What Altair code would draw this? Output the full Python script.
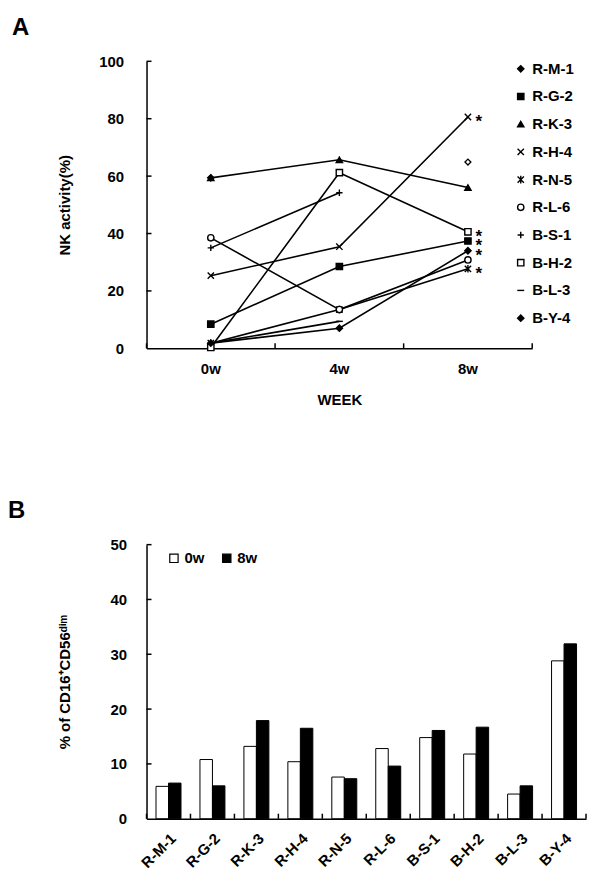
import altair as alt
import pandas as pd

FONT = "Liberation Sans"

# ---------------- Panel A data ----------------
weeks = ["0w", "4w", "8w"]
subjects = ["R-M-1", "R-G-2", "R-K-3", "R-H-4", "R-N-5",
            "R-L-6", "B-S-1", "B-H-2", "B-L-3", "B-Y-4"]

nk_r_m_1 = [59.4, None, None]
nk_r_g_2 = [8.4, 28.5, 37.4]
nk_r_k_3 = [59.4, 65.7, 56.0]
nk_r_h_4 = [25.3, 35.4, 80.6]
nk_r_n_5 = [1.8, 13.5, 27.7]
nk_r_l_6 = [38.5, 13.5, 30.8]
nk_b_s_1 = [35.0, 54.2, None]
nk_b_h_2 = [0.3, 61.2, 40.6]
nk_b_l_3 = [1.8, 9.4, None]
nk_b_y_4 = [1.8, 7.0, 34.0]

# isolated open diamond drawn at 8w
extra_week = ["8w"]
extra_nk = [64.9]

# significance stars at 8w
star_week = ["8w", "8w", "8w", "8w", "8w"]
star_nk = [80.6, 40.6, 37.4, 34.0, 27.7]

a_ticks_y = [20, 40, 60, 80, 100]

# ---------------- Panel B data ----------------
periods = ["0w", "8w"]
cd_0w = [5.9, 10.8, 13.2, 10.4, 7.6, 12.8, 14.8, 11.8, 4.5, 28.8]
cd_8w = [6.5, 6.0, 17.9, 16.5, 7.3, 9.6, 16.1, 16.7, 6.0, 31.9]
b_ticks_y = [10, 20, 30, 40, 50]

# marker styles
shape_paths = [
    "diamond",
    "square",
    "triangle-up",
    "M-1,-1L1,1M-1,1L1,-1",
    "M-1,-1L1,1M-1,1L1,-1M0,-1.2L0,1.2",
    "circle",
    "M-1,0L1,0M0,-1L0,1",
    "square",
    "M-1.1,0L1.1,0",
    "diamond",
]
fills = ["black", "black", "black", "white", "black",
         "white", "white", "white", "white", "black"]
strokes = ["black"] * 10

series_lists = [nk_r_m_1, nk_r_g_2, nk_r_k_3, nk_r_h_4, nk_r_n_5,
                nk_r_l_6, nk_b_s_1, nk_b_h_2, nk_b_l_3, nk_b_y_4]
rows = []
for s, vals in zip(subjects, series_lists):
    for i, (w, v) in enumerate(zip(weeks, vals)):
        if v is not None:
            rows.append({"series": s, "week": w, "nk": v, "ord": i})
df_a = pd.DataFrame(rows)

A_W, A_H = 387, 288
B_W, B_H = 441, 275

x_a = alt.X("week:N", sort=weeks,
            scale=alt.Scale(type="band", domain=weeks, paddingInner=0, paddingOuter=0),
            axis=alt.Axis(title="WEEK", labelAngle=0, ticks=False,
                          labelPadding=13, titlePadding=16))
y_a = alt.Y("nk:Q", scale=alt.Scale(domain=[0, 100], nice=False),
            axis=alt.Axis(values=[0, 20, 40, 60, 80, 100], title="NK activity(%)",
                          ticks=False, labelPadding=23, titlePadding=26, grid=False))

lines = alt.Chart(df_a).mark_line(color="black", strokeWidth=1.6).encode(
    x=x_a, y=y_a, detail="series:N", order="ord:Q")

legend_a = alt.Legend(title=None, orient="none", legendX=368, legendY=0,
                      direction="vertical",
                      labelFontSize=15, labelFontWeight="bold", labelFont=FONT,
                      labelColor="black", rowPadding=11.8, symbolSize=40,
                      symbolStrokeColor="black", symbolStrokeWidth=1.4,
                      labelOffset=4)
points = alt.Chart(df_a).mark_point(filled=False, color="black", strokeWidth=1.4,
                                    size=40, opacity=1).encode(
    x=x_a, y=y_a,
    shape=alt.Shape("series:N", scale=alt.Scale(domain=subjects, range=shape_paths),
                    legend=legend_a),
    fill=alt.Fill("series:N", scale=alt.Scale(domain=subjects, range=fills),
                  legend=legend_a),
    stroke=alt.Stroke("series:N", scale=alt.Scale(domain=subjects, range=strokes),
                      legend=legend_a),
)

extra = alt.Chart(pd.DataFrame({"week": extra_week, "nk": extra_nk})).mark_point(
    shape="diamond", filled=False, stroke="black", strokeWidth=1.3, size=35, opacity=1
).encode(x=x_a, y=y_a)

stars = alt.Chart(pd.DataFrame({"week": star_week, "nk": star_nk})).mark_text(
    text="*", fontSize=17, fontWeight="bold", font=FONT, dx=11, dy=5, color="black"
).encode(x=x_a, y=y_a)

ytick_a = alt.Chart(pd.DataFrame({"nk": a_ticks_y})).mark_rule(
    color="black", strokeWidth=1.5).encode(y=y_a, x=alt.value(0), x2=alt.value(5))
xtick_a = alt.Chart(pd.DataFrame({"week": weeks})).mark_rule(
    color="black", strokeWidth=1.5).encode(
    x=alt.X("week:N", sort=weeks, bandPosition=0,
            scale=alt.Scale(type="band", domain=weeks, paddingInner=0, paddingOuter=0)),
    y=alt.value(A_H), y2=alt.value(A_H - 5))
xtick_a_end = alt.Chart(pd.DataFrame({"week": weeks[-1:]})).mark_rule(
    color="black", strokeWidth=1.5).encode(
    x=alt.X("week:N", sort=weeks, bandPosition=1,
            scale=alt.Scale(type="band", domain=weeks, paddingInner=0, paddingOuter=0)),
    y=alt.value(A_H), y2=alt.value(A_H - 5))

panel_a = alt.layer(lines, points, extra, stars, ytick_a, xtick_a, xtick_a_end).properties(
    width=A_W, height=A_H,
    title=alt.Title("A", anchor="start", frame="group", dx=-135, fontSize=24,
                    font=FONT, fontWeight="bold", offset=14, color="black"))

# ---------------- Panel B ----------------
rows_b = []
for s, v0, v8 in zip(subjects, cd_0w, cd_8w):
    rows_b.append({"subject": s, "period": "0w", "pct": v0})
    rows_b.append({"subject": s, "period": "8w", "pct": v8})
df_b = pd.DataFrame(rows_b)

x_b_scale = alt.Scale(type="band", domain=subjects, paddingInner=0, paddingOuter=0)
x_b = alt.X("subject:N", sort=subjects, scale=x_b_scale,
            axis=alt.Axis(title=None, labelAngle=-45, ticks=False, labelPadding=12))
y_b = alt.Y("pct:Q", scale=alt.Scale(domain=[0, 50], nice=False),
            axis=alt.Axis(values=[0, 10, 20, 30, 40, 50],
                          title="% of CD16\u207aCD56\u1d48\u2071\u1d50",
                          ticks=False, labelPadding=20, titlePadding=38, grid=False))

bars = alt.Chart(df_b).mark_bar(stroke="black", strokeWidth=1).encode(
    x=x_b,
    xOffset=alt.XOffset("period:N", sort=periods,
                        scale=alt.Scale(domain=periods, paddingInner=0, paddingOuter=0.76)),
    y=y_b,
    fill=alt.Fill("period:N", scale=alt.Scale(domain=periods, range=["white", "black"]),
                  legend=alt.Legend(title=None, orient="none", legendX=20, legendY=6,
                                    direction="horizontal", symbolType="square",
                                    symbolSize=70, symbolStrokeColor="black",
                                    symbolStrokeWidth=1.2, labelFontSize=15,
                                    labelFontWeight="bold", labelFont=FONT,
                                    labelColor="black", columnPadding=14,
                                    labelOffset=3)),
)

ytick_b = alt.Chart(pd.DataFrame({"pct": b_ticks_y})).mark_rule(
    color="black", strokeWidth=1.5).encode(y=y_b, x=alt.value(0), x2=alt.value(5))
xtick_b = alt.Chart(pd.DataFrame({"subject": subjects})).mark_rule(
    color="black", strokeWidth=1.5).encode(
    x=alt.X("subject:N", sort=subjects, bandPosition=0, scale=x_b_scale),
    y=alt.value(B_H), y2=alt.value(B_H - 5))
xtick_b_end = alt.Chart(pd.DataFrame({"subject": subjects[-1:]})).mark_rule(
    color="black", strokeWidth=1.5).encode(
    x=alt.X("subject:N", sort=subjects, bandPosition=1, scale=x_b_scale),
    y=alt.value(B_H), y2=alt.value(B_H - 5))

panel_b = alt.layer(bars, ytick_b, xtick_b, xtick_b_end).properties(
    width=B_W, height=B_H,
    title=alt.Title("B", anchor="start", frame="group", dx=-139, fontSize=24,
                    font=FONT, fontWeight="bold", offset=15, color="black"))

chart = alt.vconcat(panel_a, panel_b, spacing=92, background="white",
                    padding={"left": 0, "top": 7, "right": 5, "bottom": 5}).resolve_scale(
    x="independent", y="independent", fill="independent", shape="independent",
    stroke="independent", xOffset="independent"
).resolve_legend(fill="independent", shape="independent",
                 stroke="independent").configure_view(
    stroke=None
).configure_axis(
    labelFont=FONT, labelFontSize=15, labelFontWeight="bold", labelColor="black",
    titleFont=FONT, titleFontSize=15, titleFontWeight="bold", titleColor="black",
    domainColor="black", domainWidth=1.5,
)

chart.save("out.html", embed_options={"renderer": "svg", "actions": False})
